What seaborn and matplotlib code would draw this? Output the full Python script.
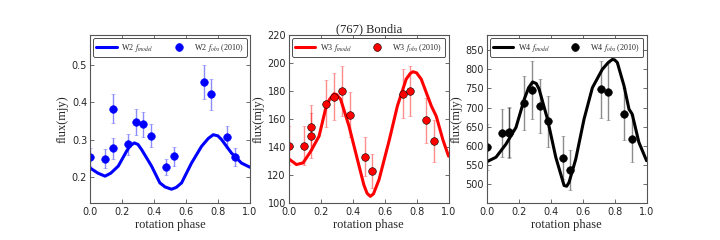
import numpy as np
import pandas as pd
import seaborn as sns
import matplotlib
matplotlib.use("Agg")
import matplotlib.pyplot as plt

sns.set_style("ticks")
plt.rcParams['font.family'] = ['DejaVu Sans']
plt.rcParams['mathtext.fontset'] = 'stix'

# observed epochs (rotation phase)
phase_obs = [0.0, 0.094, 0.141, 0.141, 0.235, 0.285, 0.333, 0.381,
             0.475, 0.523, 0.713, 0.76, 0.858, 0.906]

w2_obs = [0.253, 0.249, 0.277, 0.383, 0.287, 0.347, 0.341, 0.310,
          0.227, 0.255, 0.455, 0.421, 0.307, 0.253]
w2_err = [0.025, 0.025, 0.028, 0.039, 0.029, 0.035, 0.034, 0.031,
          0.022, 0.025, 0.045, 0.041, 0.029, 0.025]

w3_obs = [141, 141, 154, 148, 171, 176, 180, 163, 133, 123, 178, 180, 159, 144]
w3_err = [14, 14, 16, 16, 17, 17, 18, 16, 14, 12, 17.5, 18, 16, 15]

w4_obs = [596, 634, 636, 633, 713, 746, 704, 664, 569, 537, 748, 742, 683, 619]
w4_err = [60, 63, 65, 65, 71, 75, 70, 66, 57, 53, 75, 75, 69, 62]

# model light curves
w2_ph = [0.0, 0.05, 0.094, 0.13, 0.177, 0.229, 0.25, 0.277, 0.30, 0.323, 0.385,
         0.437, 0.47, 0.51, 0.54, 0.573, 0.635, 0.698, 0.74, 0.771, 0.80, 0.823,
         0.885, 0.948, 1.0]
w2_mod = [0.224, 0.210, 0.202, 0.210, 0.229, 0.269, 0.283, 0.291, 0.287, 0.273, 0.229,
          0.184, 0.173, 0.167, 0.172, 0.184, 0.237, 0.282, 0.303, 0.313, 0.310, 0.300,
          0.264, 0.237, 0.226]

w3_ph = [0.0, 0.048, 0.09, 0.138, 0.19, 0.23, 0.255, 0.283, 0.30, 0.325, 0.377, 0.43,
         0.47, 0.49, 0.51, 0.53, 0.565, 0.63, 0.68, 0.735, 0.76, 0.777, 0.80, 0.829,
         0.892, 0.923, 0.965, 1.0]
w3_mod = [131.6, 127.5, 128.7, 137, 147.8, 167, 174, 178, 177.5, 174, 155, 131,
          113, 107, 104.8, 106.5, 116.7, 145.4, 169.4, 188.5, 192.5, 193.8, 193, 188.5,
          169.4, 162, 145, 133.5]

w4_ph = [0.0, 0.058, 0.12, 0.183, 0.235, 0.262, 0.287, 0.31, 0.328, 0.38, 0.432, 0.484,
         0.50, 0.515, 0.557, 0.609, 0.661, 0.723, 0.76, 0.786, 0.80, 0.817, 0.859, 0.89,
         0.91, 0.952, 1.0]
w4_mod = [558, 570, 604, 648, 722, 752, 767, 763, 748, 670, 570, 496,
          494, 504, 565, 670, 752, 800, 818, 826, 825, 818, 757, 696,
          683, 609, 561]

panels = [
    ("W2", w2_ph, w2_mod, w2_obs, w2_err, "#0000ff", (0.13, 0.58), [0.2, 0.3, 0.4, 0.5], "{:.1f}"),
    ("W3", w3_ph, w3_mod, w3_obs, w3_err, "#ff0000", (100, 220), [100, 120, 140, 160, 180, 200, 220], "{:.0f}"),
    ("W4", w4_ph, w4_mod, w4_obs, w4_err, "#000000", (450, 890), [500, 550, 600, 650, 700, 750, 800, 850], "{:.0f}"),
]

serif = ['Liberation Serif', 'DejaVu Serif']
fig = plt.figure(figsize=(7.2, 2.4), dpi=100)
lefts = [0.125, 0.401, 0.676]

for left, (band, ph, mod, obs, err, col, ylim, yt, fmt) in zip(lefts, panels):
    ax = fig.add_axes([left, 0.154, 0.222, 0.70])
    df_mod = pd.DataFrame({"phase": ph, "flux": mod})
    sns.lineplot(data=df_mod, x="phase", y="flux", ax=ax, color=col, lw=2.2,
                 label=r"%s $\,f_{model}$" % band)
    ax.errorbar(phase_obs, obs, yerr=err, fmt='o', color=col, ms=5.5,
                mec='k' if col != "#0000ff" else col, mew=0.4,
                ecolor=col, elinewidth=1, capsize=1.5,
                label=r"%s $\,f_{obs}$ (2010)" % band)
    # lighter error bars
    for c in ax.containers:
        for lc in c[2]:
            lc.set_alpha(0.45)
        for cap in c[1]:
            cap.set_alpha(0.45)
    ax.set_xlim(0, 1)
    ax.set_ylim(*ylim)
    ax.set_xticks([0.0, 0.2, 0.4, 0.6, 0.8, 1.0])
    ax.set_xticklabels(["0.0", "0.2", "0.4", "0.6", "0.8", "1.0"])
    ax.set_yticks(yt)
    ax.set_yticklabels([fmt.format(v) for v in yt])
    ax.tick_params(direction='in', top=True, right=True, labelsize=7,
                   length=3, width=0.5, color='#333333')
    ax.tick_params(axis='x', pad=3)
    ax.tick_params(axis='y', pad=2)
    for sp in ax.spines.values():
        sp.set_color('#555555')
        sp.set_linewidth(0.8)
    ax.set_xlabel("rotation phase", family=serif, fontsize=9, labelpad=1)
    ax.set_ylabel("flux(mjy)", family=serif, fontsize=9, labelpad=2)
    leg = ax.legend(loc='upper center', ncol=2, mode='expand',
                    bbox_to_anchor=(0.01, 0.99, 0.98, 0), borderaxespad=0.2,
                    prop={'family': serif, 'size': 5.8}, fancybox=True,
                    framealpha=1, edgecolor='#333333', handlelength=2.5,
                    borderpad=0.4, columnspacing=0.3, handletextpad=0.6)
    leg.get_frame().set_linewidth(0.6)
    if band == "W3":
        ax.set_title("(767) Bondia", family=serif, fontsize=9, pad=2)

fig.savefig("out.png", dpi=100)
